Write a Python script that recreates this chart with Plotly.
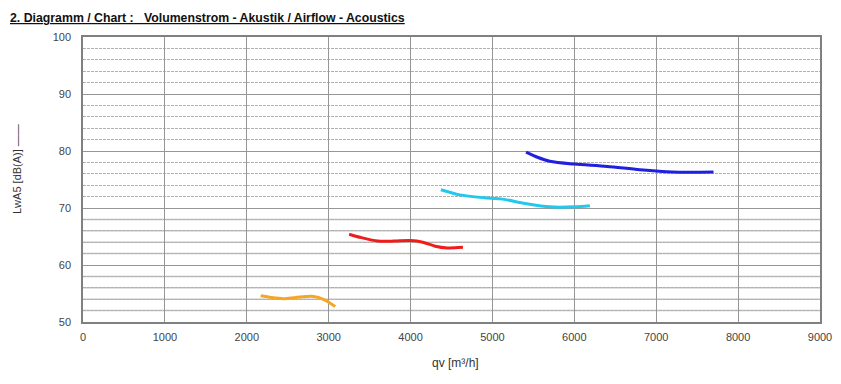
import plotly.graph_objects as go

# Data
orange_x = [2170, 2300, 2450, 2600, 2800, 2950, 3080]
orange_y = [54.6, 54.3, 54.1, 54.3, 54.5, 53.9, 52.7]

red_x = [3250, 3400, 3600, 3800, 4000, 4150, 4300, 4450, 4640]
red_y = [65.4, 64.8, 64.2, 64.2, 64.3, 64.0, 63.3, 63.0, 63.1]

cyan_x = [4370, 4600, 4900, 5100, 5400, 5700, 6000, 6190]
cyan_y = [73.2, 72.3, 71.8, 71.6, 70.8, 70.2, 70.2, 70.4]

blue_x = [5410, 5550, 5700, 6000, 6400, 6800, 7200, 7700]
blue_y = [79.8, 78.9, 78.2, 77.7, 77.3, 76.7, 76.3, 76.3]

x_ticks = [0, 1000, 2000, 3000, 4000, 5000, 6000, 7000, 8000, 9000]
y_ticks = [50, 60, 70, 80, 90, 100]
# minor grid lines that are drawn solid (lower part of the chart)
y_minor_solid = [52, 54, 56, 58, 62, 64, 66, 68]

title_text = "2. Diagramm / Chart :   Volumenstrom - Akustik / Airflow - Acoustics"
x_title = "qv [m³/h]"
y_title = "LwA5 [dB(A)] ——"

series = [
    (orange_x, orange_y, "#f5a623"),
    (red_x, red_y, "#f01c1c"),
    (cyan_x, cyan_y, "#22c8ee"),
    (blue_x, blue_y, "#2020e0"),
]

fig = go.Figure()
for xs, ys, col in series:
    fig.add_trace(go.Scatter(x=xs, y=ys, mode="lines",
                             line=dict(color=col, width=3, shape="spline", smoothing=0.8),
                             showlegend=False, hoverinfo="skip"))

font_family = "Liberation Sans, Arial, sans-serif"
# page body has an 8px margin; the figure is sized to fit inside the window
W, H = 833, 376
L, T, R, B = 75, 29, 21, 62
pw, ph = W - L - R, H - T - B

fig.update_layout(
    width=W, height=H,
    margin=dict(l=L, r=R, t=T, b=B, autoexpand=False),
    paper_bgcolor="white", plot_bgcolor="white",
    font=dict(family=font_family, size=11, color="#333333"),
    xaxis=dict(range=[0, 9000], tickvals=x_ticks, ticktext=[str(v) for v in x_ticks],
               showgrid=True, gridcolor="#969696", gridwidth=1,
               showline=True, linecolor="#808080", linewidth=1.5, mirror=True,
               zeroline=False, ticks="", ticklabelstandoff=4,
               tickfont=dict(size=11, color="#444444"),
               layer="below traces"),
    yaxis=dict(range=[50, 100], tickvals=y_ticks, ticktext=[str(v) for v in y_ticks],
               showgrid=True, gridcolor="#969696", gridwidth=1,
               showline=True, linecolor="#808080", linewidth=1.5, mirror=True,
               zeroline=False, ticks="", ticklabelstandoff=8,
               tickfont=dict(size=11, color="#444444"),
               minor=dict(dtick=2, showgrid=True, gridcolor="#b0b0b0",
                          griddash="3px,1px", gridwidth=1)),
)

for yv in y_minor_solid:
    fig.add_shape(type="line", xref="paper", yref="y", x0=0, x1=1, y0=yv, y1=yv,
                  line=dict(color="#c4c4c4", width=1.5), layer="between")

fig.add_annotation(text="<b><u>" + title_text + "</u></b>", xref="paper", yref="paper",
                   x=-L / pw, y=1 + (T - 1) / ph, xanchor="left", yanchor="top",
                   showarrow=False, font=dict(size=12.3, color="#111111", family=font_family))
fig.add_annotation(text=x_title, xref="paper", yref="paper",
                   x=(455 - 83) / pw, y=-41 / ph, xanchor="center", yanchor="middle",
                   showarrow=False, font=dict(size=12, color="#333333", family=font_family))
fig.add_annotation(text=y_title, xref="paper", yref="paper", textangle=-90,
                   x=(17 - 83) / pw, y=(322 - 169) / ph, xanchor="center", yanchor="middle",
                   showarrow=False, font=dict(size=11, color="#333333", family=font_family))

fig.write_html("out.html")
